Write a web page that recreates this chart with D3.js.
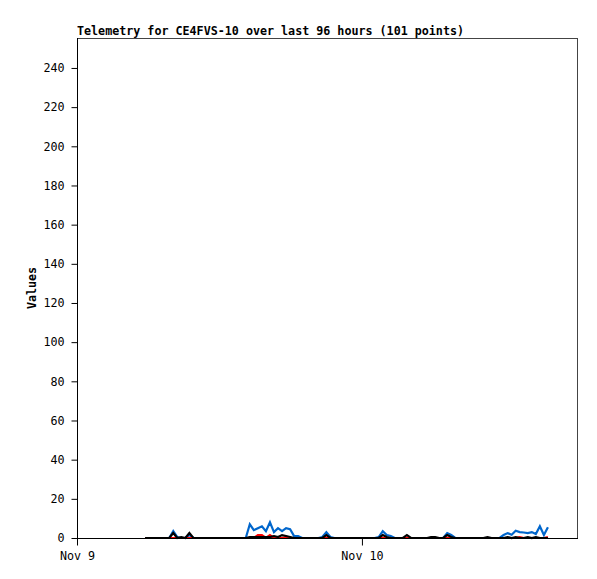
<!DOCTYPE html>
<html><head><meta charset="utf-8">
<script src="https://cdn.jsdelivr.net/npm/d3@7"></script>
<style>
body{margin:0;background:#fff;}
text{font-family:"DejaVu Sans Mono","Liberation Mono",monospace;font-size:11.7px;fill:#000;}
</style></head><body>
<svg id="c" width="597" height="579"></svg>
<script>
const title = "Telemetry for CE4FVS-10 over last 96 hours (101 points)";
const yLabel = "Values";
const yTicks = [0,20,40,60,80,100,120,140,160,180,200,220,240];
const xTickLabels = ["Nov 9","Nov 10"];
const xTickDates = ["2023-11-09T00:00:00Z","2023-11-10T00:00:00Z"];
const xStart = "2023-11-09T00:00:00Z", xEnd = "2023-11-10T18:12:00Z";
const firstPoint = "2023-11-09T05:44:00Z", lastPoint = "2023-11-10T15:40:00Z";
const yMax = 255.3;

const blue = [
0,0,0,0,0,0,0,3.5,0.5,0,
0,1.5,0,0,0,0,0,0,0,0,
0,0,0,0,0,0,7,4,5,6,
3.5,8,3,5,3.5,5,4.5,1,1,0,
0,0,0,0,0.5,3,0.5,0,0,0,
0,0,0,0,0,0,0,0,0.5,3.5,
1.5,1,0,0,0,0,0,0,0,0,
0,0,0,0,0,2.5,1.5,0,0,0,
0,0,0,0,0,0,0,0,0,1.5,
2.5,1.7,3.7,3,2.8,2.5,3,2,6,1.5,
5.5];
const red = [
0,0,0,0,0,0,0,0,0,0,
0,0,0,0,0,0,0,0,0,0,
0,0,0,0,0,0,0,0,1.5,1.5,
0,1.5,0,0,0,0.5,0,0,0,0,
0,0,0,0,0,0,0,0,0,0,
0,0,0,0,0,0,0,0,0,0,
0,0,0,0,0,0,0,0,0,0,
0,0,0,0,0,0,0,0,0,0,
0,0,0,0,0,0,0,0,0,0,
0,0,0,0.5,0,0,0,0,0,0,
0.5];
const black = [
0,0,0,0,0,0,0,2.5,0,0.5,
0,2.5,0,0,0,0,0,0,0,0,
0,0,0,0,0,0,0.5,0.5,0.5,0.5,
0.5,0.5,1,0.5,1.5,1,0.5,0,0,0,
0,0,0,0,0,1.5,0,0,0,0,
0,0,0,0,0,0,0,0,0,1.5,
0.5,0,0,0,0,1.5,0,0,0,0,
0,0.5,0.5,0,0,1.5,0.5,0,0,0,
0,0,0,0,0,0.5,0,0,0,0,
0.5,0,0.5,0,0,0.5,0,0.5,0,0,
0];
const purple = new Array(101).fill(0);

const svg = d3.select("#c");
const L=77, T=38, R=578, B=538;
const n = blue.length;
const t0 = new Date(firstPoint), t1 = new Date(lastPoint);
const times = d3.range(n).map(i => new Date(+t0 + (t1 - t0) * i / (n - 1)));

const x = d3.scaleTime().domain([new Date(xStart), new Date(xEnd)]).range([L, R]);
const y = d3.scaleLinear().domain([0, yMax]).range([B, T]);

svg.append("line").attr("x1",L).attr("x2",R-0.5).attr("y1",T+0.5).attr("y2",T+0.5).attr("stroke","#444");
svg.append("line").attr("x1",R-0.5).attr("x2",R-0.5).attr("y1",T).attr("y2",B).attr("stroke","#444");

const line = d3.line().x((d,i)=>x(times[i])).y(d=>y(d));
const series = [[purple,"#7a0080"],[blue,"#0066cc"],[red,"#ff0000"],[black,"#000000"]];
series.forEach(([d,c]) => {
  svg.append("path").datum(d).attr("d", line).attr("fill","none")
    .attr("stroke", c).attr("stroke-width", 2.2).attr("stroke-linejoin","miter");
});

const ya = svg.append("g").attr("transform",`translate(${L+0.5},0)`)
  .call(d3.axisLeft(y).tickValues(yTicks).tickSize(6).tickPadding(7));
ya.select(".domain").attr("d",`M0,${T}V${B}`);
ya.selectAll("text").style("font-size","11.7px").style("font-family","DejaVu Sans Mono");

const xa = svg.append("g").attr("transform",`translate(0,${B+0.5})`)
  .call(d3.axisBottom(x).tickValues(xTickDates.map(s=>new Date(s)))
     .tickFormat((d,i)=>xTickLabels[i]).tickSize(7).tickPadding(6));
xa.select(".domain").attr("d",`M${L},0H${R}`);
xa.selectAll("text").style("font-size","11.7px").style("font-family","DejaVu Sans Mono");

svg.append("text").attr("x",L).attr("y",35).style("font-weight","bold").text(title);
svg.append("text").attr("transform",`translate(36,${(T+B)/2}) rotate(-90)`)
  .attr("text-anchor","middle").style("font-weight","bold").text(yLabel);
</script></body></html>
